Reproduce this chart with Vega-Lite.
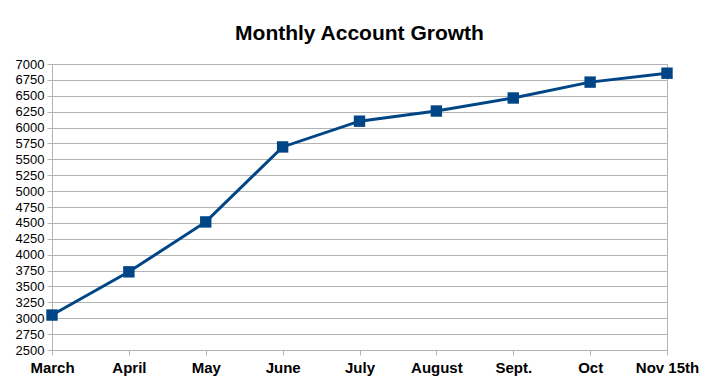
{
  "$schema": "https://vega.github.io/schema/vega-lite/v6.json",
  "autosize": {"type": "none"},
  "padding": {"left": 52, "top": 64, "right": 45, "bottom": 34},
  "width": 615,
  "height": 286,
  "background": "white",
  "title": {"text": "Monthly Account Growth", "font": "Liberation Sans", "fontSize": 21, "fontWeight": "bold", "color": "#000000", "anchor": "middle", "offset": 14},
  "config": {"view": {"stroke": "#b3b3b3", "strokeWidth": 1}, "font": "Liberation Sans"},
  "data": {"values": [
    {"month": "March", "accounts": 3050},
    {"month": "April", "accounts": 3730},
    {"month": "May", "accounts": 4515},
    {"month": "June", "accounts": 5695},
    {"month": "July", "accounts": 6100},
    {"month": "August", "accounts": 6260},
    {"month": "Sept.", "accounts": 6465},
    {"month": "Oct", "accounts": 6715},
    {"month": "Nov 15th", "accounts": 6855}
  ]},
  "encoding": {
    "x": {"field": "month", "type": "ordinal", "sort": null, "scale": {"type": "point", "padding": 0},
      "axis": {"title": null, "labelAngle": 0, "labelFont": "Liberation Sans", "labelFontSize": 15, "labelFontWeight": "bold", "labelColor": "#000000", "domain": false, "grid": false, "tickColor": "#b3b3b3", "tickSize": 5, "labelPadding": 5}},
    "y": {"field": "accounts", "type": "quantitative", "scale": {"domain": [2500, 7000], "nice": false, "zero": false},
      "axis": {"title": null, "format": "d", "values": [2500,2750,3000,3250,3500,3750,4000,4250,4500,4750,5000,5250,5500,5750,6000,6250,6500,6750,7000], "labelFont": "Liberation Sans", "labelFontSize": 13, "labelColor": "#000000", "gridColor": "#b3b3b3", "domainColor": "#b3b3b3", "tickColor": "#b3b3b3", "tickSize": 5, "labelPadding": 3}}
  },
  "layer": [
    {"mark": {"type": "line", "color": "#004586", "strokeWidth": 3}},
    {"mark": {"type": "point", "shape": "square", "filled": true, "color": "#004586", "size": 130, "opacity": 1}}
  ]
}
